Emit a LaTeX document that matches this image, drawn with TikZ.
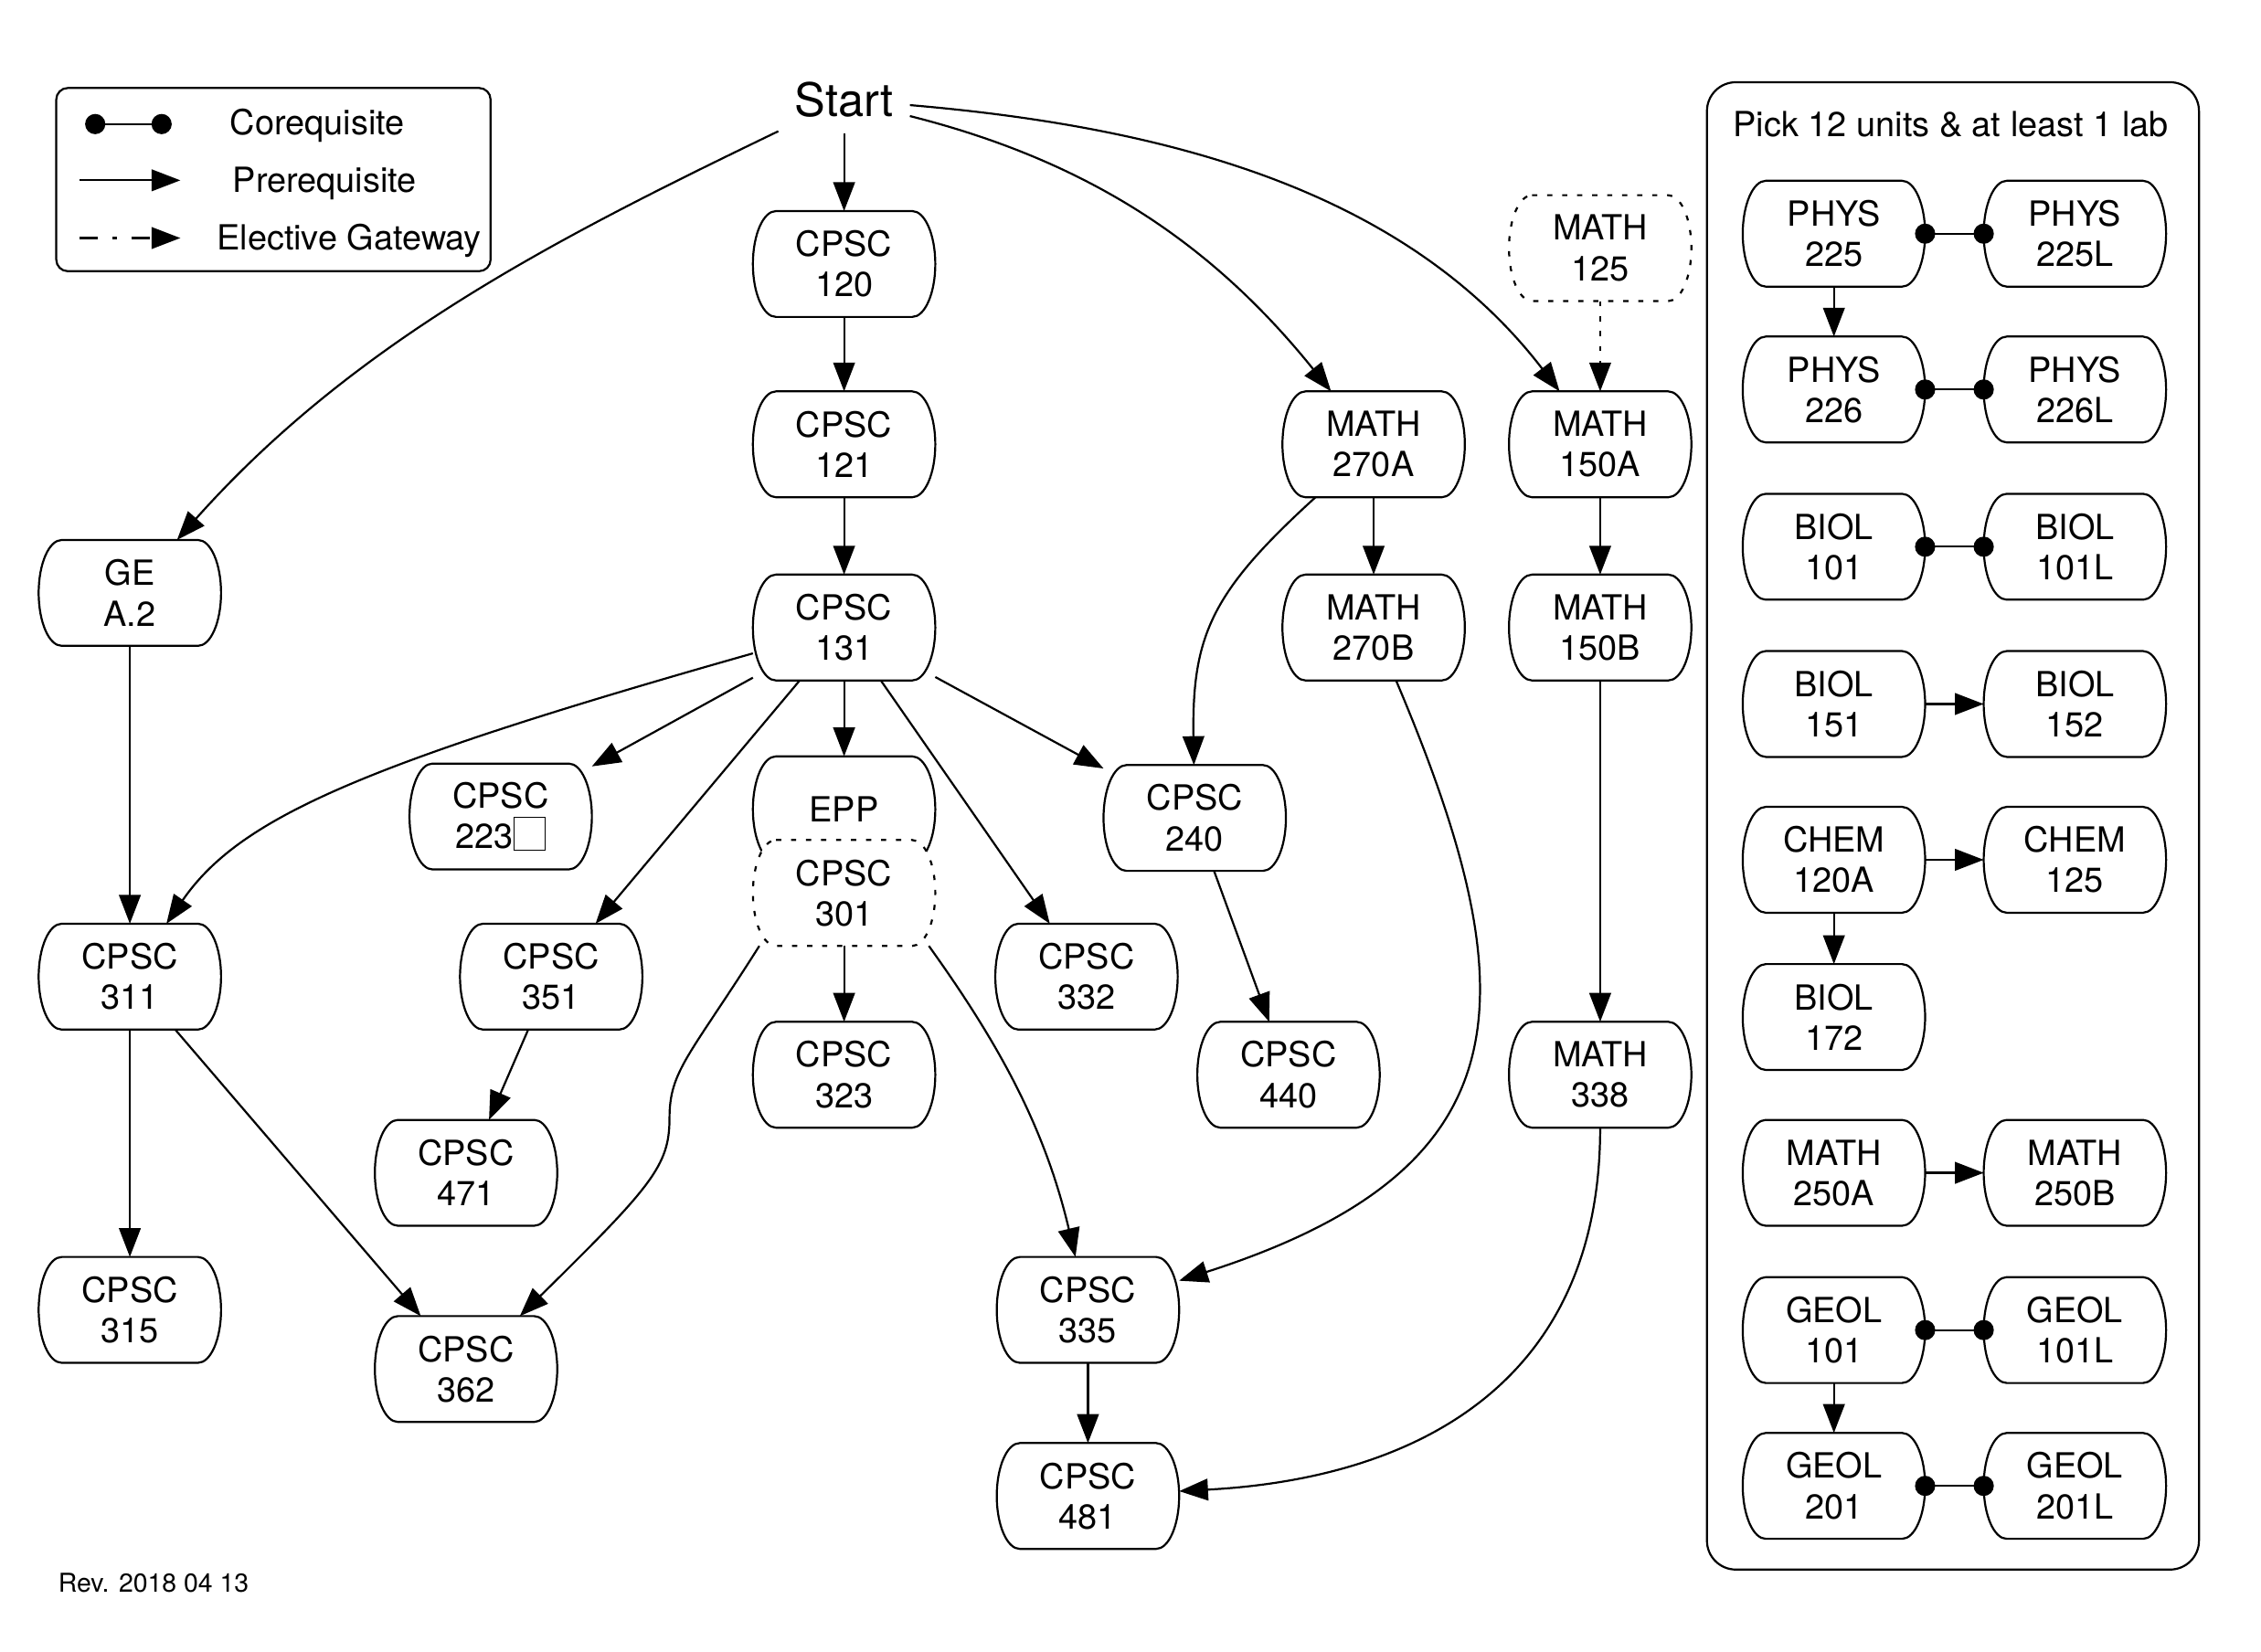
\documentclass[tikz,border=0pt]{standalone}
\usepackage{fontspec}
\setmainfont{TeX Gyre Heros}
\usetikzlibrary{arrows.meta}

% Box with half-ellipse ends
\makeatletter
\pgfdeclareshape{coursebox}{
  \inheritsavedanchors[from=rectangle]
  \inheritanchorborder[from=rectangle]
  \inheritanchor[from=rectangle]{center}
  \inheritanchor[from=rectangle]{north}
  \inheritanchor[from=rectangle]{south}
  \inheritanchor[from=rectangle]{east}
  \inheritanchor[from=rectangle]{west}
  \inheritanchor[from=rectangle]{north east}
  \inheritanchor[from=rectangle]{north west}
  \inheritanchor[from=rectangle]{south east}
  \inheritanchor[from=rectangle]{south west}
  \inheritanchor[from=rectangle]{base}
  \inheritanchor[from=rectangle]{mid}
  \backgroundpath{%
    \southwest \edef\cbl{\the\pgf@x}\edef\cbb{\the\pgf@y}%
    \northeast \edef\cbr{\the\pgf@x}\edef\cbt{\the\pgf@y}%
    \pgfmathsetmacro{\cbh}{(\cbt-\cbb)/2}%
    \pgfpathmoveto{\pgfpoint{\cbl+8pt}{\cbt}}%
    \pgfpathlineto{\pgfpoint{\cbr-8pt}{\cbt}}%
    \pgfpatharc{90}{-90}{8pt and \cbh pt}%
    \pgfpathlineto{\pgfpoint{\cbl+8pt}{\cbb}}%
    \pgfpatharc{270}{90}{8pt and \cbh pt}%
    \pgfpathclose
  }
}
\makeatother

\newcommand{\emptyglyph}{{\setlength{\fboxsep}{0pt}\setlength{\fboxrule}{0.4pt}\fbox{\rule[-0.5pt]{0pt}{11pt}\hspace{10.5pt}}}}

\tikzset{
  course/.style={draw, line width=0.7pt, shape=coursebox, fill=white,
    minimum width=62.5pt, minimum height=36pt, inner sep=0pt, align=center,
    font=\fontsize{12}{14}\selectfont},
  elective/.style={course, dash pattern=on 1.8pt off 3.4pt},
  legendtext/.style={inner sep=0.75pt, font=\fontsize{12}{14}\selectfont},
  prereq/.style={line width=0.7pt, -{Triangle[length=10pt,width=7.5pt]}},
  gateway/.style={prereq, dash pattern=on 1.8pt off 3.4pt},
  gatewaykey/.style={prereq, dash pattern=on 6.5pt off 5pt on 1.5pt off 5pt},
  coreq/.style={line width=0.7pt, {Circle[length=7pt]}-{Circle[length=7pt]},
    shorten <=-3.5pt, shorten >=-3.5pt},
}

\begin{document}
\begin{tikzpicture}[x=0.5pt,y=0.5pt,yscale=-1,xscale=1]

            \useasboundingbox (0,0) rectangle (1567,1145);

            % Legend
            \draw[line width=0.7pt, rounded corners=4pt] (39,61) rectangle (340,188);
            \coordinate (co1) at (66,86);  \coordinate (co2) at (112,86);
            \coordinate (pr1) at (55,125); \coordinate (pr2) at (125,125);
            \coordinate (el1) at (55,165); \coordinate (el2) at (125,165);
            \draw[coreq]     (co1) -- (co2);
            \draw[prereq]    (pr1) -- (pr2);
            \draw[gatewaykey] (el1) -- (el2);
            \draw (220, 87) node [legendtext] (lco) {Corequisite};
            \draw (225,127) node [legendtext] (lpr) {Prerequisite};
            \draw (242,167) node [legendtext] (lel) {Elective Gateway};

            % Start
            \draw (585, 69) node [inner sep=5.5pt, font=\fontsize{16}{19}\selectfont] (start) {Start};

            % Courses
            \draw ( 585, 183) node [course] (c120) {CPSC\\120};
            \draw ( 585, 308) node [course] (c121) {CPSC\\121};
            \draw ( 585, 435) node [course] (c131) {CPSC\\131};
            \draw ( 585, 561) node [course] (epp)  {EPP};
            \draw ( 585, 619) node [elective] (c301) {CPSC\\301};
            \draw ( 585, 745) node [course] (c323) {CPSC\\323};
            \draw (  90, 411) node [course] (ge)   {GE\\A.2};
            \draw (  90, 677) node [course] (c311) {CPSC\\311};
            \draw (  90, 908) node [course] (c315) {CPSC\\315};
            \draw ( 347, 566) node [course] (c223) {CPSC\\223\emptyglyph};
            \draw ( 382, 677) node [course] (c351) {CPSC\\351};
            \draw ( 323, 813) node [course] (c471) {CPSC\\471};
            \draw ( 323, 949) node [course] (c362) {CPSC\\362};
            \draw ( 753, 677) node [course] (c332) {CPSC\\332};
            \draw ( 828, 567) node [course] (c240) {CPSC\\240};
            \draw ( 893, 745) node [course] (c440) {CPSC\\440};
            \draw ( 754, 908) node [course] (c335) {CPSC\\335};
            \draw ( 754,1037) node [course] (c481) {CPSC\\481};
            \draw ( 952, 308) node [course] (m270a) {MATH\\270A};
            \draw ( 952, 435) node [course] (m270b) {MATH\\270B};
            \draw (1109, 172) node [elective] (m125) {MATH\\125};
            \draw (1109, 308) node [course] (m150a) {MATH\\150A};
            \draw (1109, 435) node [course] (m150b) {MATH\\150B};
            \draw (1109, 745) node [course] (m338) {MATH\\338};

            % Prerequisites
            \coordinate (bend301) at (464,775);
            \draw[prereq] (start) -- (c120);
            \draw[prereq] (start) .. controls (386,165) and (246,236) .. (ge);
            \draw[prereq] (start) .. controls (756,112) and (841,170) .. (m270a);
            \draw[prereq] (start) .. controls (809, 88) and (974,132) .. (m150a);
            \draw[prereq] (c120) -- (c121);
            \draw[prereq] (c121) -- (c131);
            \draw[prereq] (c131) -- (epp);
            \draw[prereq] (c131) -- (c223);
            \draw[prereq] (c131) -- (c351);
            \draw[prereq] (c131) -- (c332);
            \draw[prereq] (c131) -- (c240);
            \draw[prereq] (c131) .. controls (250,530) and (166,567) .. (c311);
            \draw[prereq] (c301) -- (c323);
            \draw[prereq] (c301.-148) .. controls (478,732) and (464,742) .. (bend301)
                                      .. controls (464,808) and (452,822) .. (c362);
            \draw[prereq] (c301.-32) .. controls (692,723) and (724,781) .. (c335);
            \draw[prereq] (ge) -- (c311);
            \draw[prereq] (c311) -- (c315);
            \draw[prereq] (c311) -- (c362);
            \draw[prereq] (c351) -- (c471);
            \draw[prereq] (c240) -- (c440);
            \draw[prereq] (c335) -- (c481);
            \draw[prereq] (m270a) -- (m270b);
            \draw[prereq] (m270a) .. controls (840,410) and (826,440) .. (c240);
            \draw[prereq] (m270b) .. controls (1060,690) and (1060,810) .. (c335);
            \draw[prereq] (m150a) -- (m150b);
            \draw[prereq] (m150b) -- (m338);
            \draw[prereq] (m338) .. controls (1109,960) and (980,1025) .. (c481);
            \draw[gateway] (m125) -- (m150a);

            % Science electives
            \draw[line width=0.7pt, rounded corners=10pt] (1183,57) rectangle (1524,1088);
            \draw (1352, 86) node [legendtext] (pick) {Pick 12 units \& at least 1 lab};
            \draw (1271, 162) node [course] (phys225)  {PHYS\\225};
            \draw (1438, 162) node [course] (phys225l) {PHYS\\225L};
            \draw (1271, 270) node [course] (phys226)  {PHYS\\226};
            \draw (1438, 270) node [course] (phys226l) {PHYS\\226L};
            \draw (1271, 379) node [course] (biol101)  {BIOL\\101};
            \draw (1438, 379) node [course] (biol101l) {BIOL\\101L};
            \draw (1271, 488) node [course] (biol151)  {BIOL\\151};
            \draw (1438, 488) node [course] (biol152)  {BIOL\\152};
            \draw (1271, 596) node [course] (chem120a) {CHEM\\120A};
            \draw (1438, 596) node [course] (chem125)  {CHEM\\125};
            \draw (1271, 705) node [course] (biol172)  {BIOL\\172};
            \draw (1271, 813) node [course] (math250a) {MATH\\250A};
            \draw (1438, 813) node [course] (math250b) {MATH\\250B};
            \draw (1271, 922) node [course] (geol101)  {GEOL\\101};
            \draw (1438, 922) node [course] (geol101l) {GEOL\\101L};
            \draw (1271,1030) node [course] (geol201)  {GEOL\\201};
            \draw (1438,1030) node [course] (geol201l) {GEOL\\201L};

            \draw[coreq]  (phys225) -- (phys225l);
            \draw[coreq]  (phys226) -- (phys226l);
            \draw[coreq]  (biol101) -- (biol101l);
            \draw[coreq]  (geol101) -- (geol101l);
            \draw[coreq]  (geol201) -- (geol201l);
            \draw[prereq] (phys225) -- (phys226);
            \draw[prereq] (biol151) -- (biol152);
            \draw[prereq] (chem120a) -- (chem125);
            \draw[prereq] (chem120a) -- (biol172);
            \draw[prereq] (math250a) -- (math250b);
            \draw[prereq] (geol101) -- (geol201);

            % Revision
            \draw (40,1097) node [anchor=west, inner sep=0pt, font=\fontsize{9}{11}\selectfont] (rev) {Rev. 2018 04 13};

\end{tikzpicture}
\end{document}
